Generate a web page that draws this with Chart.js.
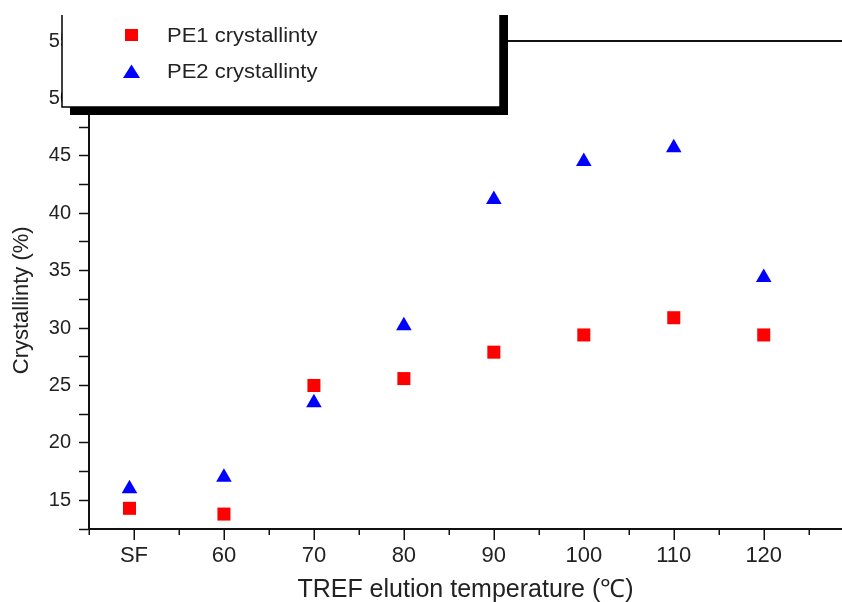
<!DOCTYPE html>
<html>
<head>
<meta charset="utf-8">
<script src="https://cdn.jsdelivr.net/npm/chart.js@4/dist/chart.umd.min.js"></script>
<style>
  html, body { margin: 0; padding: 0; background: #fff; }
  #wrap { width: 842px; height: 602px; }
</style>
</head>
<body>
<div id="wrap"><canvas id="canvas" width="842" height="602"></canvas></div>
<script>
const temps = [49.5, 60, 70, 80, 90, 100, 110, 120];
const pe1 = [14.3, 13.8, 25.0, 25.6, 27.9, 29.4, 30.9, 29.4];
const pe2 = [16.0, 17.0, 23.5, 30.2, 41.2, 44.5, 45.7, 34.4];
const xTickLabels = { 50: 'SF', 60: '60', 70: '70', 80: '80', 90: '90', 100: '100', 110: '110', 120: '120' };
const seriesNames = ['PE1 crystallinty', 'PE2 crystallinty'];

const FONT = "'Liberation Sans', Arial, sans-serif";
const TEXT = '#222';

const ctx = document.getElementById('canvas').getContext('2d');

const data = {
    datasets: [
        {
            label: seriesNames[0],
            data: temps.map((t, i) => ({ x: t, y: pe1[i] })),
            pointStyle: 'rect',
            pointRadius: 9.2,
            backgroundColor: '#ff0000',
            borderWidth: 0,
            order: 2
        },
        {
            label: seriesNames[1],
            data: temps.map((t, i) => ({ x: t, y: pe2[i] })),
            pointStyle: 'triangle',
            pointRadius: 9,
            backgroundColor: '#0000ff',
            borderWidth: 0,
            order: 1
        }
    ]
};

const config = {
    type: 'scatter',
    data: data,
    options: {
        responsive: false,
        animation: false,
        layout: { autoPadding: false, padding: { top: 41, right: 0, left: 0, bottom: 0 } },
        plugins: {
            legend: { display: false },
            tooltip: { enabled: false }
        },
        scales: {
            x: {
                type: 'linear',
                min: 45,
                max: 128.7,
                afterFit: (scale) => {
                    scale.height = 73;
                    scale.paddingLeft = 0;
                    scale.paddingRight = 0;
                },
                border: { display: true, color: '#111', width: 2 },
                grid: { drawOnChartArea: false, drawTicks: false },
                ticks: {
                    stepSize: 5,
                    autoSkip: false,
                    maxRotation: 0,
                    padding: 14,
                    color: TEXT,
                    font: { family: FONT, size: 22 },
                    callback: (v) => xTickLabels[v] || ''
                },
                title: {
                    display: true,
                    text: 'TREF elution temperature (℃)',
                    color: TEXT,
                    font: { family: FONT, size: 25, lineHeight: 1 },
                    padding: { top: 0, bottom: -1 }
                }
            },
            y: {
                min: 12.5,
                max: 55,
                afterFit: (scale) => {
                    scale.width = 89;
                    scale.paddingTop = 0;
                    scale.paddingBottom = 0;
                },
                border: { display: true, color: '#111', width: 2 },
                grid: { drawOnChartArea: false, tickLength: 10, tickColor: '#111', tickWidth: 1.5 },
                ticks: {
                    stepSize: 2.5,
                    autoSkip: false,
                    padding: 8,
                    color: TEXT,
                    font: { family: FONT, size: 20 },
                    callback: (v) => (v % 5 === 0 ? String(v) : '')
                },
                title: {
                    display: true,
                    // trailing spaces nudge the rotated title down, as in the original
                    text: 'Crystallinty (%)     ',
                    color: TEXT,
                    font: { family: FONT, size: 22, lineHeight: 1 },
                    padding: { top: 11, bottom: 0 }
                }
            }
        }
    },
    plugins: [
        {
            id: 'frame',
            beforeDatasetsDraw: (chart) => {
                const c = chart.ctx;
                const area = chart.chartArea;
                const xScale = chart.scales.x;
                c.save();
                c.strokeStyle = '#111';
                c.lineWidth = 2;
                c.beginPath();
                c.moveTo(area.left, area.top);
                c.lineTo(area.right, area.top);
                c.stroke();

                // x ticks, long at labelled values, short in between
                c.lineWidth = 1.5;
                for (let v = 45; v <= 125; v += 5) {
                    const x = Math.round(xScale.getPixelForValue(v)) + 0.25;
                    const len = v % 10 === 0 ? 11 : 6;
                    c.beginPath();
                    c.moveTo(x, area.bottom);
                    c.lineTo(x, area.bottom + len);
                    c.stroke();
                }
                c.restore();
            }
        },
        {
            id: 'boxLegend',
            afterDraw: (chart) => {
                const c = chart.ctx;
                const left = 62, top = 15, right = 500, bottom = 107;
                c.save();
                // shadow
                c.fillStyle = '#000';
                c.fillRect(left + 8, top, right - left, bottom - top + 8);
                c.fillStyle = '#fff';
                c.fillRect(left, top - 20, right - left, bottom - top + 20);
                c.strokeStyle = '#000';
                c.lineWidth = 1.5;
                c.beginPath();
                c.moveTo(left, top);
                c.lineTo(left, bottom);
                c.lineTo(right, bottom);
                c.lineTo(right, top);
                c.stroke();

                // markers
                c.fillStyle = '#ff0000';
                c.fillRect(125, 29, 13, 12);
                c.fillStyle = '#0000ff';
                c.beginPath();
                c.moveTo(131.5, 64.5);
                c.lineTo(140, 78);
                c.lineTo(123, 78);
                c.closePath();
                c.fill();

                // legend text is a little wider than tall in the original
                c.fillStyle = TEXT;
                c.font = '20px ' + FONT;
                c.textBaseline = 'middle';
                c.textAlign = 'left';
                c.translate(167, 0);
                c.scale(1.1, 1);
                c.fillText(seriesNames[0], 0, 36);
                c.fillText(seriesNames[1], 0, 72);
                c.restore();
            }
        }
    ]
};

const chart = new Chart(ctx, config);
</script>
</body>
</html>
